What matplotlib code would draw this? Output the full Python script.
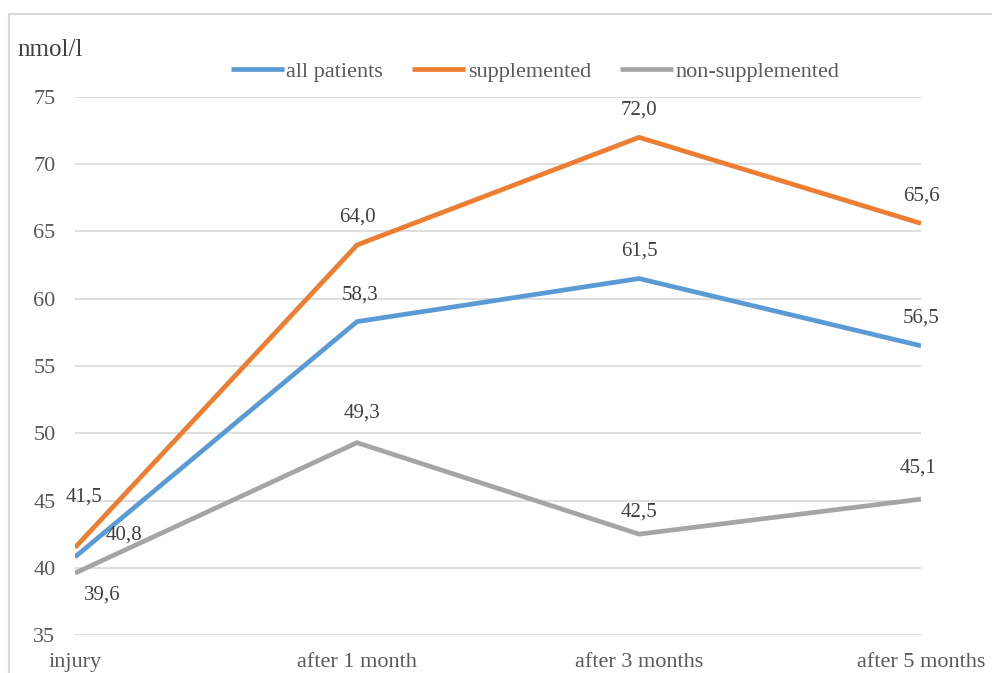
import matplotlib.pyplot as plt
from matplotlib.patches import Rectangle

categories = ["injury", "after 1 month", "after 3 months", "after 5 months"]
all_patients = [40.8, 58.3, 61.5, 56.5]
supplemented = [41.5, 64.0, 72.0, 65.6]
non_supplemented = [39.6, 49.3, 42.5, 45.1]
y_ticks = [35, 40, 45, 50, 55, 60, 65, 70, 75]

# label offsets in pixels (dx, dy) relative to each point
off_all = [(49, 22), (3, 27), (0, 28), (0, 28)]
off_sup = [(9, 51), (0, 28), (0, 27), (0, 27)]
off_non = [(27, -22), (5, 30), (0, 22), (-3, 31)]

plt.rcParams['font.family'] = ['Liberation Serif', 'DejaVu Serif']
W, H = 992, 673
fig = plt.figure(figsize=(W / 100, H / 100), dpi=100)

# chart area border
fig.patches.append(Rectangle((9 / W, -0.1), 1.2, 1 - 14 / H + 0.1,
                             transform=fig.transFigure, fill=False,
                             edgecolor='#D9D9D9', linewidth=1.5))

ax = fig.add_axes([75 / W, 38 / H, (921 - 75) / W, (635 - 97) / H])
x = list(range(len(categories)))

series = [
    ("all patients", all_patients, '#5B9BD5', off_all),
    ("supplemented", supplemented, '#ED7D31', off_sup),
    ("non-supplemented", non_supplemented, '#A5A5A5', off_non),
]
for name, vals, col, offs in series:
    ax.plot(x, vals, color=col, linewidth=3.4, label=name,
            solid_capstyle='butt', zorder=3)
    for xi, v, (dx, dy) in zip(x, vals, offs):
        ax.annotate(f"{v:.1f}".replace('.', ','), (xi, v),
                    xytext=(dx, dy), textcoords='offset pixels',
                    ha='center', va='center', fontsize=15,
                    color='#404040', zorder=4)

ax.set_xlim(0, 3)
ax.set_ylim(35, 75)
ax.set_yticks(y_ticks)
ax.set_xticks(x)
ax.set_xticklabels(categories)
ax.grid(axis='y', color='#D9D9D9', linewidth=1.2)
ax.set_axisbelow(True)
for s in ax.spines.values():
    s.set_visible(False)
ax.tick_params(axis='both', length=0, labelsize=16, labelcolor='#595959')
ax.tick_params(axis='y', pad=14)
ax.tick_params(axis='x', pad=13)

fig.text(17 / W, 1 - 50 / H, "nmol/l", fontsize=18, color='#404040',
         ha='left', va='center')

fig.legend(loc='center', bbox_to_anchor=(535 / W, 1 - 72 / H), ncol=3,
           frameon=False, fontsize=16, handlelength=2.4, handletextpad=0.1,
           columnspacing=1.3, labelcolor='#595959')

fig.savefig('out.png', dpi=100)
